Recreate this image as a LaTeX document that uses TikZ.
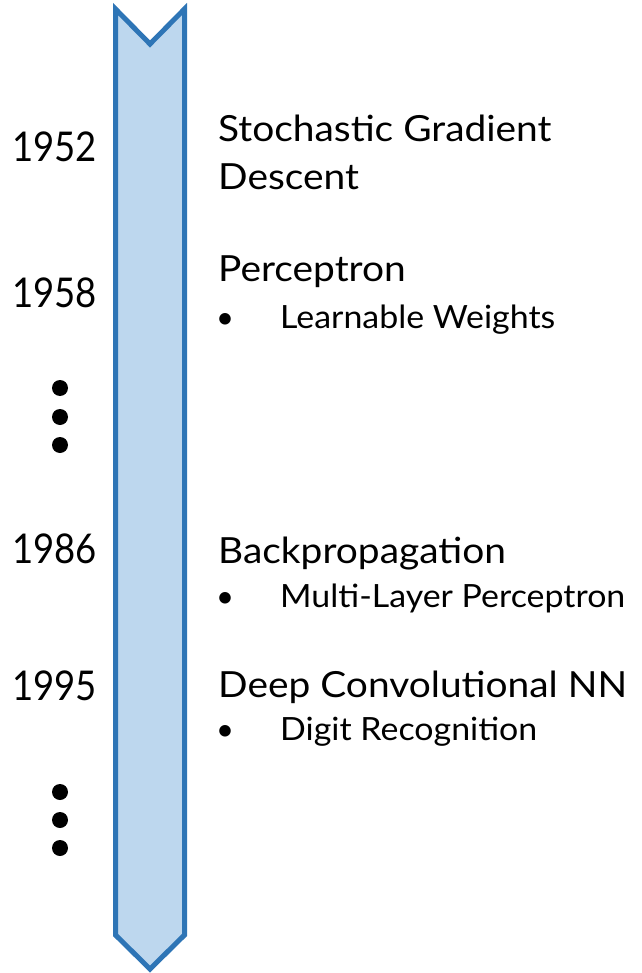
\documentclass[tikz,border=0pt]{standalone}
\usepackage{graphicx}
\usepackage{fontspec}
\setmainfont{Lato}
\definecolor{arrowfill}{HTML}{BDD7EE}
\definecolor{arrowline}{HTML}{2E75B6}
\newcommand\yeartxt[1]{\scalebox{0.89}[1]{#1}}
\newcommand\titletxt[1]{\scalebox{1.08}[1]{#1}}
\newcommand\subtxt[1]{\scalebox{1.06}[1]{#1}}
\begin{document}
\begin{tikzpicture}[x=1pt,y=-1pt,
  yearlbl/.style={anchor=base west,inner sep=0pt,font=\fontsize{41}{41}\selectfont},
  titlelbl/.style={anchor=base west,inner sep=0pt,font=\fontsize{36}{36}\selectfont},
  subitem/.style={anchor=base west,inner sep=0pt,font=\fontsize{32}{32}\selectfont},
  bulletmark/.style={anchor=base west,inner sep=0pt,font=\fontsize{31}{31}\selectfont},
  ellipsisdot/.style={circle,fill=black,inner sep=0pt,minimum size=16pt}]
\useasboundingbox (0,0) rectangle (641,973);
% timeline arrow
\draw[line width=5pt,draw=arrowline,fill=arrowfill,line join=miter]
  (115.5,9) -- (150,44) -- (184.5,9) -- (184.5,935) -- (150,969) -- (115.5,935) -- cycle;
% years
\node[yearlbl] (y1952) at (12,162) {\yeartxt{1952}};
\node[yearlbl] (y1958) at (12,307) {\yeartxt{1958}};
\node[yearlbl] (y1986) at (12,563) {\yeartxt{1986}};
\node[yearlbl] (y1995) at (12,700) {\yeartxt{1995}};
% ellipsis dots
\node[ellipsisdot] (d1) at (60,388) {};
\node[ellipsisdot] (d2) at (60,417) {};
\node[ellipsisdot] (d3) at (60,445) {};
\node[ellipsisdot] (d4) at (60,792) {};
\node[ellipsisdot] (d5) at (60,820) {};
\node[ellipsisdot] (d6) at (60,848) {};
% events
\node[titlelbl] (sgd1) at (218,142) {\titletxt{Stochastic Gradient}};
\node[titlelbl] (sgd2) at (218,190) {\titletxt{Descent}};
\node[titlelbl] (perc) at (218,282) {\titletxt{Perceptron}};
\node[bulletmark] (b1) at (216,328) {•};
\node[subitem] (lw) at (280,328) {\subtxt{Learnable Weights}};
\node[titlelbl] (bp) at (218,563) {\titletxt{Backpropagation}};
\node[bulletmark] (b2) at (216,607) {•};
\node[subitem] (mlp) at (280,607) {\subtxt{Multi-Layer Perceptron}};
\node[titlelbl] (dcnn) at (218,697) {\titletxt{Deep Convolutional NN}};
\node[bulletmark] (b3) at (216,740) {•};
\node[subitem] (dr) at (280,740) {\subtxt{Digit Recognition}};
\end{tikzpicture}
\end{document}
